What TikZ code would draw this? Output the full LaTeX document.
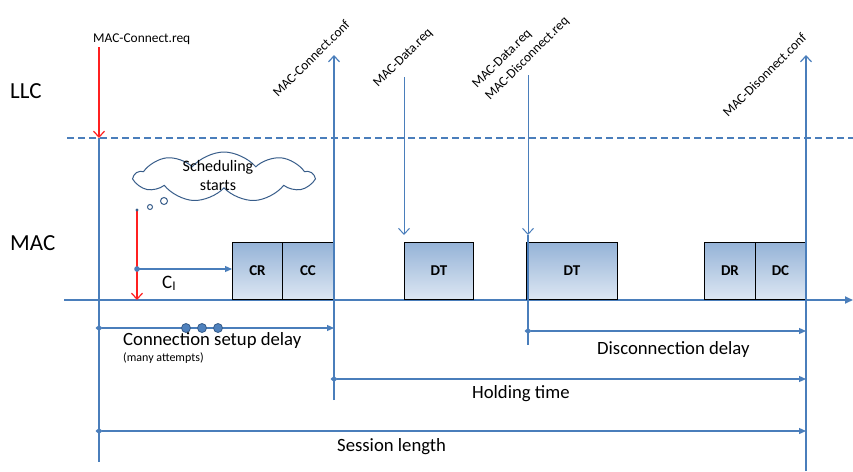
\documentclass[tikz,border=0pt]{standalone}
\usepackage{fontspec}
\setmainfont{Carlito}
\usetikzlibrary{arrows.meta,shapes.symbols}
\definecolor{lb}{HTML}{4A7EBB}
\definecolor{rd}{HTML}{FF2020}
\definecolor{btop}{HTML}{95B3D7}
\definecolor{bbot}{HTML}{DDE7F3}
\definecolor{dotf}{HTML}{4F81BD}
\definecolor{dotb}{HTML}{385D8A}
\begin{document}
\begin{tikzpicture}[x=1pt,y=-1pt,
  vline/.style={draw=lb,line width=1.2pt},
  uparr/.style={vline,-{Straight Barb[length=6pt,width=11pt]}},
  downarr/.style={draw=lb,line width=1pt,-{Straight Barb[length=6pt,width=11pt]}},
  redarr/.style={draw=rd,line width=1.2pt,-{Straight Barb[length=6pt,width=11pt]}},
  box/.style={draw=black,line width=0.9pt,top color=btop,bottom color=bbot,minimum height=57pt,inner sep=0,font=\fontsize{15}{15}\selectfont\bfseries,anchor=south west},
  dim/.style={draw=lb,line width=1.2pt,shorten <=-3.5pt,{Diamond[length=7pt,width=6pt]}-{Triangle[length=7pt,width=6pt]}},
  sig/.style={font=\fontsize{13.4}{14}\selectfont,rotate=45,anchor=base west,inner sep=0},
  lab/.style={font=\fontsize{18.7}{20}\selectfont,anchor=base west,inner sep=0},
  layer/.style={font=\fontsize{23}{24}\selectfont,anchor=base west,inner sep=0},
  bead/.style={circle,fill=dotf,draw=dotb,line width=0.8pt,minimum size=9pt,inner sep=0},
]
\useasboundingbox (0,0) rectangle (853,471);

% layer labels
\node[layer] (llc) at (10,98) {LLC};
\node[layer] (mac) at (10,250) {MAC};

% LLC/MAC boundary and time axis
\coordinate (B0) at (67,138);
\coordinate (B1) at (853,138);
\draw[draw=lb,line width=1.8pt,dash pattern=on 7pt off 4pt] (B0) -- (B1);
\coordinate (A0) at (64,300);
\coordinate (A1) at (853,300);
\draw[draw=lb,line width=1.8pt,-{Triangle[length=8pt,width=7pt]}] (A0) -- (A1);

% boxes
\node[box,minimum width=50pt] (CR) at (232,300) {CR};
\node[box,minimum width=51pt] (CC) at (282,300) {CC};
\node[box,minimum width=69pt] (DT1) at (404,300) {DT};
\node[box,minimum width=91pt] (DT2) at (526,300) {DT};
\node[box,minimum width=51pt] (DR) at (704,300) {DR};
\node[box,minimum width=50pt] (DC) at (755,300) {DC};

% MAC-Connect.req
\node[font=\fontsize{13.4}{14}\selectfont,anchor=base west,inner sep=0] (creq) at (93,42) {MAC-Connect.req};
\coordinate (R0) at (99,47);
\coordinate (L0) at (99,138);
\coordinate (L1) at (99,462);
\draw[redarr] (R0) -- (L0);
\draw[vline] (L0) -- (L1);

% MAC-Connect.conf
\coordinate (C0) at (334,400);
\coordinate (C1) at (334,55);
\draw[uparr] (C0) -- (C1);
\node[sig] (cconf) at (278,98) {MAC-Connect.conf};

% MAC-Data.req
\coordinate (D0) at (404,77);
\coordinate (D1) at (404,235);
\draw[downarr] (D0) -- (D1);
\node[sig] (dreq) at (378,88) {MAC-Data.req};

% MAC-Data.req / MAC-Disconnect.req
\coordinate (E0) at (528,75);
\coordinate (E1) at (528,235);
\coordinate (E2) at (528,345);
\draw[downarr] (E0) -- (E1);
\draw[vline] (E1) -- (E2);
\node[sig] (dreq2) at (477,89) {MAC-Data.req};
\node[sig] (discreq) at (490,101) {MAC-Disconnect.req};

% MAC-Disonnect.conf
\coordinate (F0) at (806,471);
\coordinate (F1) at (806,55);
\draw[uparr] (F0) -- (F1);
\node[sig] (dconf) at (728,118) {MAC-Disonnect.conf};

% scheduling cloud
\node[cloud,draw=dotb,line width=1pt,cloud puffs=9,cloud puff arc=100,cloud ignores aspect,minimum width=178pt,minimum height=50pt,inner sep=0] (cloud) at (224,177) {};
\node[font=\fontsize{16}{19}\selectfont,align=center,inner sep=0] (sched) at (218,176) {Scheduling\\starts};
\node[circle,draw=dotb,line width=1pt,minimum size=7pt,inner sep=0] (t2) at (164,201) {};
\node[circle,draw=dotb,line width=1pt,minimum size=5pt,inner sep=0] (t1) at (150,207) {};

% CI
\coordinate (S0) at (137,210);
\coordinate (S1) at (137,300);
\draw[redarr] (S0) -- (S1);
\fill[dotb] (S0) circle (1.6pt);
\coordinate (P) at (137,269);
\fill[lb] (P) circle (2.8pt);
\draw[draw=lb,line width=1.2pt,-{Triangle[length=7pt,width=6pt]}] (P) -- (P -| CR.west);
\node[font=\fontsize{19}{20}\selectfont,anchor=base west,inner sep=0] (ci) at (162,288) {C\textsubscript{I}};

% connection setup delay
\coordinate (K0) at (99,328);
\coordinate (K1) at (334,328);
\draw[dim] (K0) -- (K1);
\node[bead] (b1) at (186,328) {};
\node[bead] (b2) at (202,328) {};
\node[bead] (b3) at (218,328) {};
\node[lab] (csd) at (123,345) {Connection setup delay};
\node[font=\fontsize{12}{13}\selectfont,anchor=base west,inner sep=0] (many) at (123,361) {(many attempts)};

% disconnection delay
\coordinate (G0) at (528,331);
\coordinate (G1) at (806,331);
\draw[dim] (G0) -- (G1);
\node[lab] (dd) at (597,354) {Disconnection delay};

% holding time
\coordinate (H0) at (334,379);
\coordinate (H1) at (806,379);
\draw[dim] (H0) -- (H1);
\node[lab] (ht) at (472,398) {Holding time};

% session length
\coordinate (J0) at (99,431);
\coordinate (J1) at (806,431);
\draw[dim] (J0) -- (J1);
\node[lab] (sl) at (337,451) {Session length};
\end{tikzpicture}
\end{document}
